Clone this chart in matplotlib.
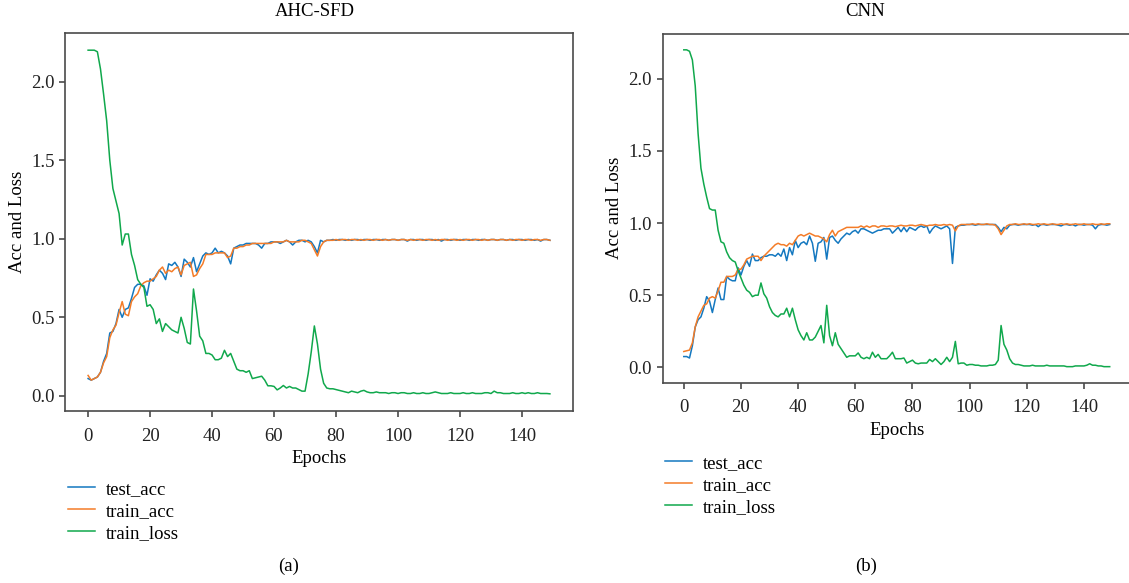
import matplotlib.pyplot as plt
import numpy as np

# Fonts / style
plt.rcParams['font.family'] = ['Liberation Serif', 'DejaVu Serif']
plt.rcParams['font.size'] = 13.5

BLUE = '#1478c0'
ORANGE = '#f47c28'
GREEN = '#10a84c'
SPINE = '#4a4a4a'

epochs = np.arange(150)

# ---- (a) AHC-SFD ----
test_acc_a = [
    0.11, 0.10, 0.11, 0.12, 0.15, 0.22, 0.27, 0.40, 0.41, 0.46,
    0.55, 0.50, 0.55, 0.56, 0.62, 0.69, 0.71, 0.71, 0.70, 0.64,
    0.745, 0.73, 0.77, 0.80, 0.78, 0.74, 0.84, 0.83, 0.85, 0.82,
    0.76, 0.87, 0.85, 0.82, 0.88, 0.79, 0.84, 0.89, 0.91, 0.90,
    0.91, 0.94, 0.91, 0.92, 0.91, 0.89, 0.84, 0.94, 0.95, 0.96,
    0.96, 0.97, 0.97, 0.97, 0.97, 0.96, 0.94, 0.97, 0.97, 0.98,
    0.98, 0.98, 0.97, 0.98, 0.99, 0.98, 0.96, 0.98, 0.99, 0.99,
    0.98, 0.99, 0.98, 0.95, 0.91, 0.99, 0.98, 0.99, 0.99, 0.995,
    0.99, 0.995, 0.995, 0.99, 0.995, 0.99, 0.995, 0.995, 0.99, 0.995,
    0.995, 0.99, 0.995, 0.995, 0.99, 0.995, 0.995, 0.99, 0.995, 0.995,
    0.99, 0.995, 0.995, 0.985, 0.995, 0.995, 0.99, 0.995, 0.995, 0.99,
    0.995, 0.995, 0.99, 0.995, 0.985, 0.995, 0.995, 0.99, 0.995, 0.995,
    0.99, 0.995, 0.995, 0.99, 0.995, 0.995, 0.99, 0.995, 0.995, 0.99,
    0.995, 0.995, 0.99, 0.995, 0.995, 0.99, 0.995, 0.995, 0.99, 0.995,
    0.995, 0.99, 0.995, 0.995, 0.99, 0.995, 0.985, 0.995, 0.995, 0.99,
]
train_acc_a = [
    0.13, 0.10, 0.11, 0.12, 0.15, 0.21, 0.25, 0.37, 0.42, 0.45,
    0.53, 0.60, 0.52, 0.51, 0.60, 0.63, 0.65, 0.70, 0.72, 0.73,
    0.73, 0.745, 0.76, 0.80, 0.82, 0.78, 0.80, 0.79, 0.81, 0.82,
    0.77, 0.83, 0.84, 0.85, 0.76, 0.77, 0.81, 0.84, 0.90, 0.90,
    0.90, 0.91, 0.91, 0.91, 0.91, 0.88, 0.89, 0.94, 0.94, 0.95,
    0.95, 0.96, 0.96, 0.97, 0.97, 0.97, 0.97, 0.97, 0.97, 0.97,
    0.98, 0.98, 0.98, 0.98, 0.99, 0.98, 0.98, 0.98, 0.98, 0.99,
    0.99, 0.98, 0.97, 0.93, 0.89, 0.95, 0.98, 0.99, 0.99, 0.99,
    0.995, 0.99, 0.995, 0.995, 0.99, 0.995, 0.995, 0.99, 0.995, 0.99,
    0.995, 0.995, 0.99, 0.995, 0.995, 0.99, 0.995, 0.99, 0.995, 0.995,
    0.99, 0.995, 0.995, 0.99, 0.995, 0.99, 0.995, 0.995, 0.99, 0.995,
    0.995, 0.99, 0.995, 0.99, 0.995, 0.995, 0.99, 0.995, 0.995, 0.99,
    0.995, 0.99, 0.995, 0.995, 0.99, 0.995, 0.995, 0.99, 0.995, 0.99,
    0.995, 0.995, 0.99, 0.995, 0.995, 0.99, 0.995, 0.99, 0.995, 0.995,
    0.99, 0.995, 0.995, 0.99, 0.995, 0.995, 0.99, 0.995, 0.995, 0.99,
]
train_loss_a = [
    2.20, 2.20, 2.20, 2.19, 2.08, 1.92, 1.75, 1.50, 1.32, 1.24,
    1.16, 0.96, 1.03, 1.03, 0.90, 0.83, 0.74, 0.71, 0.69, 0.57,
    0.58, 0.55, 0.46, 0.49, 0.41, 0.46, 0.44, 0.42, 0.41, 0.40,
    0.50, 0.43, 0.34, 0.33, 0.68, 0.54, 0.38, 0.35, 0.27, 0.27,
    0.26, 0.23, 0.23, 0.24, 0.29, 0.25, 0.27, 0.22, 0.17, 0.16,
    0.16, 0.15, 0.16, 0.11, 0.115, 0.12, 0.125, 0.10, 0.064, 0.064,
    0.06, 0.038, 0.05, 0.066, 0.05, 0.06, 0.05, 0.05, 0.04, 0.03,
    0.03, 0.14, 0.28, 0.445, 0.33, 0.17, 0.08, 0.05, 0.045, 0.045,
    0.04, 0.035, 0.03, 0.025, 0.02, 0.03, 0.025, 0.02, 0.03, 0.035,
    0.025, 0.02, 0.02, 0.025, 0.02, 0.02, 0.02, 0.015, 0.02, 0.02,
    0.015, 0.02, 0.02, 0.015, 0.015, 0.02, 0.015, 0.015, 0.02, 0.015,
    0.015, 0.02, 0.025, 0.02, 0.015, 0.015, 0.015, 0.02, 0.015, 0.015,
    0.015, 0.02, 0.015, 0.015, 0.02, 0.015, 0.015, 0.015, 0.02, 0.02,
    0.015, 0.03, 0.02, 0.02, 0.015, 0.015, 0.015, 0.02, 0.015, 0.015,
    0.02, 0.015, 0.02, 0.015, 0.015, 0.02, 0.015, 0.015, 0.015, 0.013,
]

# ---- (b) CNN ----
test_acc_b = [
    0.075, 0.075, 0.065, 0.15, 0.28, 0.33, 0.35, 0.41, 0.49, 0.46,
    0.38, 0.47, 0.55, 0.47, 0.47, 0.63, 0.61, 0.60, 0.60, 0.69,
    0.64, 0.70, 0.74, 0.70, 0.785, 0.74, 0.74, 0.76, 0.77, 0.77,
    0.78, 0.78, 0.77, 0.79, 0.77, 0.82, 0.74, 0.83, 0.78, 0.88,
    0.83, 0.86, 0.87, 0.85, 0.91, 0.86, 0.735, 0.86, 0.87, 0.90,
    0.75, 0.90, 0.91, 0.88, 0.86, 0.89, 0.91, 0.93, 0.92, 0.94,
    0.95, 0.93, 0.96, 0.96, 0.95, 0.94, 0.93, 0.94, 0.95, 0.95,
    0.96, 0.96, 0.96, 0.93, 0.95, 0.97, 0.94, 0.97, 0.94, 0.97,
    0.96, 0.95, 0.97, 0.98, 0.97, 0.98, 0.93, 0.96, 0.98, 0.97,
    0.96, 0.97, 0.98, 0.96, 0.72, 0.97, 0.98, 0.985, 0.985, 0.99,
    0.99, 0.99, 0.985, 0.99, 0.99, 0.99, 0.99, 0.99, 0.99, 0.99,
    0.97, 0.94, 0.97, 0.96, 0.985, 0.99, 0.99, 0.985, 0.99, 0.99,
    0.99, 0.99, 0.985, 0.99, 0.975, 0.99, 0.99, 0.985, 0.99, 0.99,
    0.99, 0.985, 0.98, 0.99, 0.99, 0.985, 0.99, 0.98, 0.99, 0.99,
    0.985, 0.99, 0.99, 0.985, 0.96, 0.985, 0.99, 0.99, 0.985, 0.99,
]
train_acc_b = [
    0.11, 0.115, 0.12, 0.17, 0.28, 0.35, 0.39, 0.43, 0.44, 0.48,
    0.49, 0.48, 0.53, 0.59, 0.59, 0.63, 0.63, 0.63, 0.64, 0.68,
    0.68, 0.71, 0.75, 0.76, 0.77, 0.77, 0.77, 0.74, 0.77, 0.79,
    0.81, 0.83, 0.85, 0.86, 0.85, 0.85, 0.84, 0.86, 0.85, 0.88,
    0.91, 0.92, 0.91, 0.92, 0.93, 0.92, 0.91, 0.91, 0.90, 0.89,
    0.87, 0.92, 0.95, 0.91, 0.94, 0.95, 0.96, 0.97, 0.97, 0.97,
    0.97, 0.97, 0.98, 0.97, 0.98, 0.97, 0.98, 0.98, 0.97, 0.98,
    0.98, 0.975, 0.98, 0.98, 0.975, 0.98, 0.985, 0.98, 0.98, 0.985,
    0.985, 0.98, 0.985, 0.99, 0.985, 0.98, 0.985, 0.985, 0.99, 0.985,
    0.985, 0.99, 0.985, 0.99, 0.985, 0.945, 0.98, 0.99, 0.99, 0.99,
    0.99, 0.995, 0.99, 0.995, 0.99, 0.99, 0.995, 0.99, 0.99, 0.985,
    0.96, 0.92, 0.95, 0.98, 0.99, 0.99, 0.995, 0.99, 0.99, 0.995,
    0.99, 0.995, 0.99, 0.99, 0.995, 0.99, 0.995, 0.99, 0.99, 0.995,
    0.99, 0.99, 0.995, 0.99, 0.995, 0.99, 0.99, 0.995, 0.99, 0.99,
    0.995, 0.99, 0.99, 0.995, 0.99, 0.99, 0.995, 0.99, 0.995, 0.995,
]
train_loss_b = [
    2.20, 2.20, 2.19, 2.13, 1.95, 1.62, 1.38, 1.27, 1.18, 1.10,
    1.09, 1.09, 0.95, 0.87, 0.86, 0.80, 0.76, 0.74, 0.73, 0.67,
    0.62, 0.57, 0.535, 0.52, 0.49, 0.50, 0.50, 0.585, 0.51, 0.48,
    0.42, 0.38, 0.36, 0.35, 0.37, 0.37, 0.41, 0.35, 0.41, 0.33,
    0.26, 0.22, 0.19, 0.24, 0.19, 0.19, 0.21, 0.25, 0.29, 0.17,
    0.43, 0.22, 0.15, 0.24, 0.16, 0.13, 0.10, 0.07, 0.08, 0.08,
    0.08, 0.10, 0.07, 0.06, 0.07, 0.06, 0.105, 0.07, 0.09, 0.06,
    0.06, 0.06, 0.08, 0.105, 0.06, 0.06, 0.06, 0.065, 0.03, 0.04,
    0.05, 0.03, 0.025, 0.03, 0.03, 0.03, 0.055, 0.04, 0.06, 0.04,
    0.02, 0.04, 0.07, 0.04, 0.07, 0.18, 0.025, 0.03, 0.03, 0.015,
    0.02, 0.02, 0.015, 0.015, 0.01, 0.01, 0.01, 0.015, 0.015, 0.02,
    0.05, 0.29, 0.16, 0.12, 0.06, 0.03, 0.02, 0.02, 0.015, 0.01,
    0.01, 0.01, 0.015, 0.01, 0.01, 0.01, 0.01, 0.015, 0.01, 0.01,
    0.01, 0.01, 0.01, 0.01, 0.005, 0.005, 0.005, 0.01, 0.01, 0.01,
    0.01, 0.015, 0.025, 0.015, 0.015, 0.01, 0.01, 0.005, 0.005, 0.005,
]

labels = ['test_acc', 'train_acc', 'train_loss']

W, H = 1129, 583
fig = plt.figure(figsize=(W / 100, H / 100), dpi=100)


def px_axes(x0, y0, x1, y1):
    # axes rectangle from pixel coords (top-left origin)
    return fig.add_axes([x0 / W, 1 - y1 / H, (x1 - x0) / W, (y1 - y0) / H])


def draw(ax, test, train, loss):
    ax.plot(epochs, test, color=BLUE, lw=1.1, label=labels[0])
    ax.plot(epochs, train, color=ORANGE, lw=1.1, label=labels[1])
    ax.plot(epochs, loss, color=GREEN, lw=1.1, label=labels[2])
    ax.set_xticks([0, 20, 40, 60, 80, 100, 120, 140])
    ax.set_yticks([0.0, 0.5, 1.0, 1.5, 2.0])
    ax.set_xlabel('Epochs', labelpad=4)
    ax.set_ylabel('Acc and Loss', labelpad=4)
    for s in ax.spines.values():
        s.set_color(SPINE)
        s.set_linewidth(1.2)
    ax.tick_params(colors='#222222', length=4, width=1.2, color=SPINE)
    ax.tick_params(axis='x', pad=8)


ax1 = px_axes(65, 33, 573, 411)
draw(ax1, test_acc_a, train_acc_a, train_loss_a)

ax2 = px_axes(662.5, 34, 1131, 382.5)
draw(ax2, test_acc_b, train_acc_b, train_loss_b)

fig.text(315 / W, 1 - 12 / H, 'AHC-SFD', ha='center', va='center')
fig.text(865 / W, 1 - 12 / H, 'CNN', ha='center', va='center')

ax1.legend(loc='upper left', bbox_to_anchor=(60 / W, 1 - 473 / H),
           bbox_transform=fig.transFigure, frameon=False,
           handlelength=1.45, handletextpad=0.6, labelspacing=0.26,
           borderaxespad=0)
ax2.legend(loc='upper left', bbox_to_anchor=(657 / W, 1 - 447 / H),
           bbox_transform=fig.transFigure, frameon=False,
           handlelength=1.45, handletextpad=0.6, labelspacing=0.26,
           borderaxespad=0)

fig.text(289 / W, 1 - 566 / H, '(a)', ha='center', va='center')
fig.text(866 / W, 1 - 566 / H, '(b)', ha='center', va='center')

fig.savefig('out.png', dpi=100)
